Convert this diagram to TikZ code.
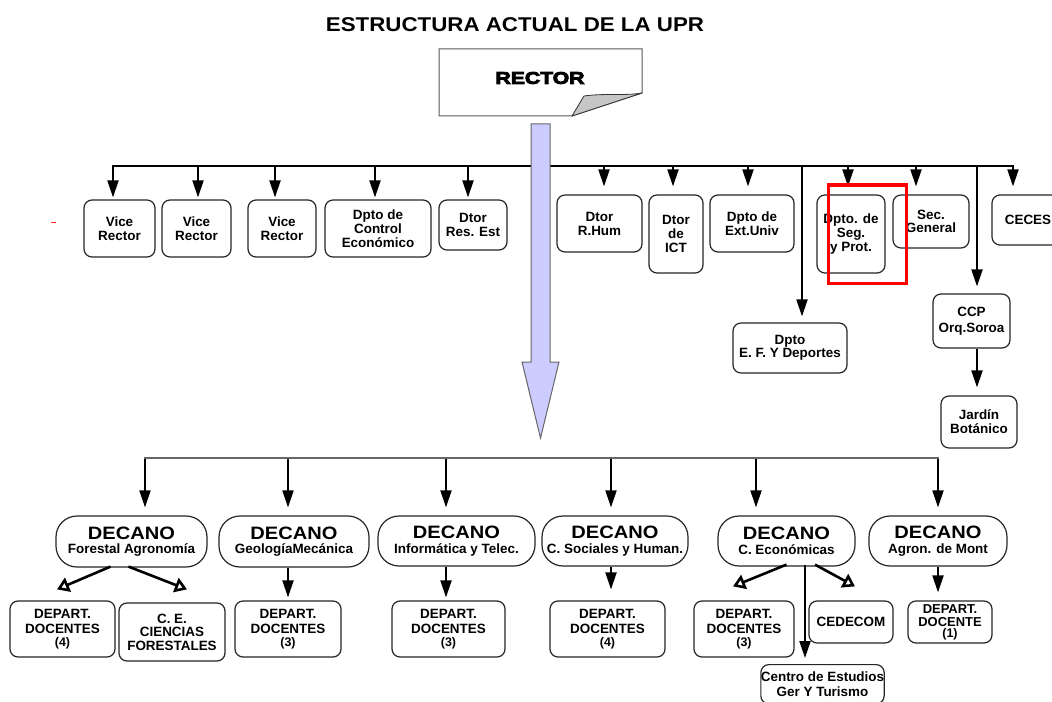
\documentclass[tikz,border=0pt]{standalone}
\usepackage{fontspec}
\setmainfont{Liberation Sans}
\newfontfamily\widesf[FakeStretch=1.12]{Liberation Sans}
\newfontfamily\rectorfont[FakeStretch=1.25,BoldFeatures={FakeBold=5}]{Liberation Sans}
\usetikzlibrary{arrows.meta}
\definecolor{lav}{RGB}{204,204,255}
\newcommand\decbox[1]{{\widesf\fontsize{18}{14.5}\selectfont DECANO}\\#1}
\begin{document}
\begin{tikzpicture}[x=1bp,y=-1bp,
  box/.style={draw=black!85, line width=1.2bp, rounded corners=8bp, fill=white, align=center, inner sep=0pt,
    font=\fontsize{13.5}{14}\selectfont\bfseries},
  sub/.style={box, font=\fontsize{13.5}{15.5}\selectfont\bfseries},
  dec/.style={box, rounded corners=21bp, font=\fontsize{13.5}{14.5}\selectfont\bfseries},
  arr/.style={draw=black, line width=2bp, -{Triangle[width=11bp,length=17bp]}},
  oarr/.style={draw=black, line width=2.6bp, -{Triangle[open,fill=white,width=15bp,length=12bp]}},
  bus/.style={line width=2bp, line cap=rect}]
\useasboundingbox (0,0) rectangle (1052,702);
\clip (0,0) rectangle (1052,702);
\fill[white] (0,0) rectangle (1052,702);

% title
\node[font=\widesf\fontsize{20}{22}\selectfont\bfseries] (title) at (515,25) {ESTRUCTURA ACTUAL DE LA UPR};

% rector
\draw[draw=gray!70!black, fill=white, line width=1bp] (439,49) -- (642,49) -- (642,93) -- (572,116) -- (439,116) -- cycle;
\draw[draw=black!80, fill=gray!45, line width=0.8bp, line join=round] (572,116) -- (584,96) .. controls (605,93) and (625,96) .. (642,93) -- cycle;
\node[font=\rectorfont\bfseries\fontsize{17}{18}\selectfont] (rector) at (540,78) {RECTOR};

% stray mark
\draw[red!85, line width=1bp] (51,222) -- (56,222);

% top row boxes
\node[box, minimum width=71bp, minimum height=57bp] (vr1) at (119.5,228.5) {Vice\\Rector};
\node[box, minimum width=69bp, minimum height=57bp] (vr2) at (196.5,228.5) {Vice\\Rector};
\node[box, minimum width=68bp, minimum height=57bp] (vr3) at (282,228.5) {Vice\\Rector};
\node[box, minimum width=106bp, minimum height=57bp] (dce) at (378,228.5) {Dpto de\\Control\\Económico};
\node[box, minimum width=68bp, minimum height=50bp] (dre) at (473,225) {Dtor\\Res. Est};
\node[box, minimum width=85bp, minimum height=57bp] (drh) at (599.5,223.5) {Dtor\\R.Hum};
\node[box, minimum width=54bp, minimum height=78bp] (dict) at (676,234) {Dtor\\de\\ICT};
\node[box, minimum width=84bp, minimum height=57bp] (dext) at (752,223.5) {Dpto de\\Ext.Univ};
\node[box, minimum width=68bp, minimum height=78bp] (dseg) at (851,234) {Dpto. de\\Seg.\\y Prot.};
\node[box, minimum width=76bp, minimum height=53bp, font=\fontsize{13.5}{12.5}\selectfont\bfseries] (sec) at (931,221.5) {Sec.\\General};
\node[box, minimum width=72bp, minimum height=50bp] (ceces) at (1028,220) {CECES};
\node[box, minimum width=114bp, minimum height=50bp, font=\fontsize{13.5}{13}\selectfont\bfseries] (def) at (790,348) {Dpto\\E. F. Y Deportes};
\node[box, minimum width=77bp, minimum height=54bp, font=\fontsize{13.5}{16}\selectfont\bfseries] (ccp) at (971.5,321) {CCP\\Orq.Soroa};
\node[box, minimum width=76bp, minimum height=52bp] (jar) at (979,422) {Jardín\\Botánico};

% top connectors
\foreach \x/\n/\s in {113/vr1/2, 198/vr2/2, 275/vr3/2, 375/dce/2, 468/dre/2, 604/drh/8, 673/dict/8, 748/dext/8, 848/dseg/8, 916/sec/8, 1013/ceces/8, 802/def/6, 977/ccp/7}
  {\coordinate (b\n) at (\x,166);
   \draw[arr, shorten >=\s bp] (b\n) -- (b\n |- \n.north);}
\draw[bus] (bvr1) -- (bceces);
\coordinate (ccps) at ([xshift=5.5bp]ccp.south);
\draw[arr, shorten >=8bp] (ccps) -- (ccps |- jar.north);

% big arrow
\draw[draw=gray!80!black, fill=lav, line width=1bp, line join=miter] (531,124) -- (550,124) -- (550,362) -- (559,362) -- (540.5,438) -- (522,362) -- (531,362) -- cycle;

% red highlight
\draw[red, line width=3bp] (828,185) rectangle (906,283);

% decanos
\node[dec, minimum width=151bp, minimum height=51bp] (d1) at (131.5,541.5) {\decbox{Forestal Agronomía}};
\node[dec, minimum width=150bp, minimum height=51bp] (d2) at (294,541.5) {\decbox{GeologíaMecánica}};
\node[dec, minimum width=157bp, minimum height=50bp] (d3) at (456.5,541) {\decbox{Informática y Telec.}};
\node[dec, minimum width=146bp, minimum height=50bp] (d4) at (615,541) {\decbox{C. Sociales y Human.}};
\node[dec, minimum width=137bp, minimum height=50bp] (d5) at (786.5,541) {\decbox{C. Económicas}};
\node[dec, minimum width=138bp, minimum height=50bp] (d6) at (938,541) {\decbox{Agron. de Mont}};

\foreach \x/\n in {145/d1, 288/d2, 446/d3, 611/d4, 756/d5, 938/d6}
  {\coordinate (c\n) at (\x,458);
   \draw[arr, line width=1.8bp, shorten >=8bp] (c\n) -- (c\n |- \n.north);}
\draw[line width=1.5bp, draw=black!60, line cap=rect] (cd1) -- (cd6);

% departments
\node[sub, minimum width=105bp, minimum height=56bp] (dep1) at (62.5,629) {DEPART.\\DOCENTES\\[-3bp]{\fontsize{12.5}{12}\selectfont (4)}};
\node[sub, minimum width=106bp, minimum height=58bp, font=\fontsize{13.5}{13.5}\selectfont\bfseries] (cef) at (172,632) {C. E.\\CIENCIAS\\FORESTALES};
\node[sub, minimum width=106bp, minimum height=56bp] (dep2) at (288,629) {DEPART.\\DOCENTES\\[-3bp]{\fontsize{12.5}{12}\selectfont (3)}};
\node[sub, minimum width=113bp, minimum height=56bp] (dep3) at (448.5,629) {DEPART.\\DOCENTES\\[-3bp]{\fontsize{12.5}{12}\selectfont (3)}};
\node[sub, minimum width=115bp, minimum height=56bp] (dep4) at (607.5,629) {DEPART.\\DOCENTES\\[-3bp]{\fontsize{12.5}{12}\selectfont (4)}};
\node[sub, minimum width=100bp, minimum height=56bp] (dep5) at (744,629) {DEPART.\\DOCENTES\\[-3bp]{\fontsize{12.5}{12}\selectfont (3)}};
\node[sub, minimum width=84bp, minimum height=42bp] (cedecom) at (851,622) {CEDECOM};
\node[sub, minimum width=84bp, minimum height=42bp, font=\fontsize{13}{13}\selectfont\bfseries] (dep6) at (950,622) {DEPART.\\DOCENTE\\[-2bp]{\fontsize{12.5}{12}\selectfont (1)}};
\node[box, anchor=north, minimum width=121bp, inner ysep=7bp, font=\fontsize{13.5}{15.5}\selectfont\bfseries] (ceg) at (822.5,664) {Centro de Estudios\\Ger Y Turismo};

% decano to department connectors
\draw[oarr] ([xshift=-21bp,yshift=1bp]d1.south) -- ([xshift=-5.5bp,yshift=11bp]dep1.north);
\draw[oarr] ([xshift=-3bp,yshift=1bp]d1.south) -- ([xshift=15bp,yshift=13bp]cef.north);
\coordinate (d2s) at ([xshift=-6bp]d2.south);
\draw[arr, shorten >=3bp] (d2s) -- (d2s |- dep2.north);
\coordinate (d3s) at ([xshift=-10.5bp]d3.south);
\draw[arr, shorten >=3bp] (d3s) -- (d3s |- dep3.north);
\coordinate (d4s) at ([xshift=-4bp]d4.south);
\draw[arr, shorten >=11bp] (d4s) -- (d4s |- dep4.north);
\draw[oarr] ([yshift=2bp]d5.south) -- ([xshift=-11bp,yshift=14bp]dep5.north);
\draw[oarr] ([xshift=28.5bp,yshift=2bp]d5.south) -- ([xshift=4bp,yshift=14bp]cedecom.north);
\coordinate (d5s) at ([xshift=18.5bp,yshift=2bp]d5.south);
\draw[arr, shorten >=6bp] (d5s) -- (d5s |- ceg.north);
\draw[arr, shorten >=8bp] (d6.south) -- (d6.south |- dep6.north);
\end{tikzpicture}
\end{document}
